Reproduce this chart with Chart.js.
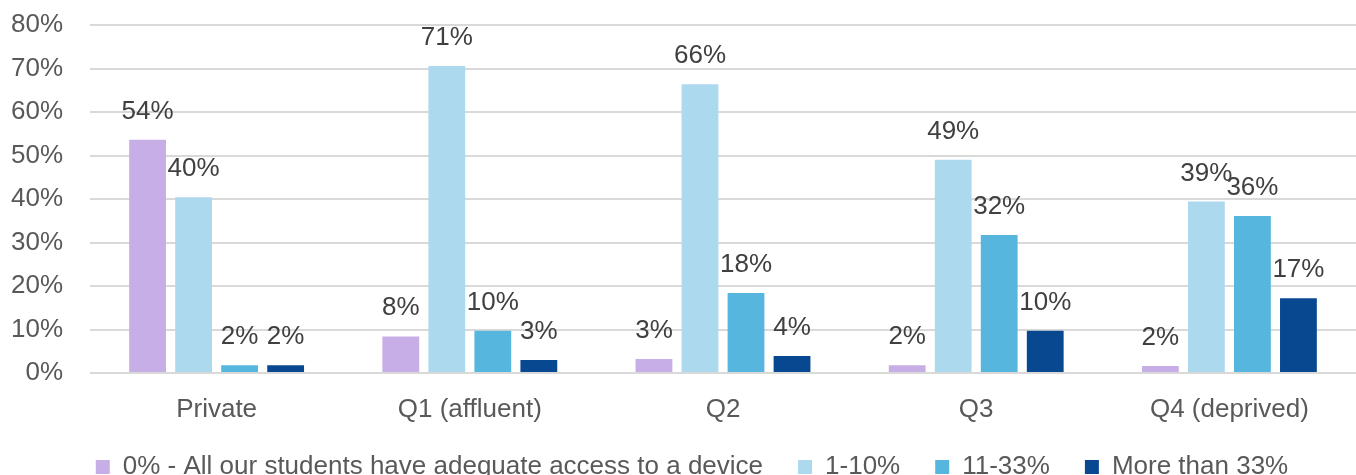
<!DOCTYPE html>
<html>
<head>
<meta charset="utf-8">
<script src="https://cdn.jsdelivr.net/npm/chart.js@4"></script>
<style>
  html, body { margin: 0; padding: 0; background: #fff; }
  #wrap { width: 1356px; height: 475px; }
</style>
</head>
<body>
<div id="wrap"><canvas id="chart" width="1356" height="475"></canvas></div>
<script>
// 区分（x軸）
const categories = ['Private', 'Q1 (affluent)', 'Q2', 'Q3', 'Q4 (deprived)'];
// 系列名
const seriesNames = ['0% - All our students have adequate access to a device', '1-10%', '11-33%', 'More than 33%'];
// 系列ごとの値（%）- 棒の高さから読み取り
const noneData = [53.6, 8.4, 3.2, 1.8, 1.6];
const lowData = [40.4, 70.6, 66.4, 49.0, 39.4];
const midData = [1.8, 9.7, 18.4, 31.7, 36.1];
const highData = [1.8, 3.0, 3.9, 9.7, 17.2];
// y軸の目盛り
const yTicks = [0, 10, 20, 30, 40, 50, 60, 70, 80];

const colors = ['#c8aee6', '#add9ef', '#57b6dd', '#074891'];
const fontFamily = '"Liberation Sans", Arial, sans-serif';

// 棒の上に値を描く（整数に丸める）
const valueLabels = {
    id: 'valueLabels',
    afterDatasetsDraw(chart) {
        const ctx = chart.ctx;
        ctx.save();
        ctx.font = '26px ' + fontFamily;
        ctx.fillStyle = '#404040';
        ctx.textAlign = 'center';
        ctx.textBaseline = 'alphabetic';
        chart.data.datasets.forEach((ds, i) => {
            chart.getDatasetMeta(i).data.forEach((bar, j) => {
                ctx.fillText(Math.round(ds.data[j]) + '%', bar.x, bar.y - 21);
            });
        });
        ctx.restore();
    }
};

// 凡例の位置を少しずらす
const legendShift = {
    id: 'legendShift',
    afterLayout(chart) {
        const l = chart.legend;
        l.top -= 5;
        l.bottom -= 5;
        l.left += 9;
        l.right += 9;
    }
};

const allData = [noneData, lowData, midData, highData];
const ctx = document.getElementById('chart');
new Chart(ctx, {
    type: 'bar',
    data: {
        labels: categories,
        datasets: seriesNames.map((name, i) => ({
            label: name,
            data: allData[i],
            backgroundColor: colors[i],
            categoryPercentage: 0.727,
            barPercentage: 0.8
        }))
    },
    options: {
        responsive: false,
        animation: false,
        layout: {
            padding: { top: 25, left: 10, right: 0, bottom: -20 }
        },
        plugins: {
            legend: {
                position: 'bottom',
                labels: {
                    font: { size: 26, family: fontFamily },
                    color: '#595959',
                    boxWidth: 14,
                    boxHeight: 14,
                    padding: 35
                }
            },
            tooltip: { enabled: false }
        },
        scales: {
            x: {
                grid: { display: false, drawTicks: false },
                border: { display: false },
                ticks: {
                    font: { size: 26, family: fontFamily, lineHeight: 1 },
                    color: '#595959',
                    padding: 24
                },
                afterFit: (s) => { s.height = 51; s.paddingLeft = 0; s.paddingRight = 0; }
            },
            y: {
                min: 0,
                max: 80,
                afterBuildTicks: (axis) => {
                    axis.ticks = yTicks.map(v => ({ value: v }));
                },
                grid: {
                    color: '#d9d9d9',
                    lineWidth: 2,
                    drawTicks: false
                },
                border: { display: false },
                ticks: {
                    font: { size: 26, family: fontFamily },
                    color: '#595959',
                    padding: 27,
                    callback: (v) => v + '%'
                },
                afterFit: (s) => { s.width = 80; s.paddingTop = 0; s.paddingBottom = 0; }
            }
        }
    },
    plugins: [valueLabels, legendShift]
});
</script>
</body>
</html>
